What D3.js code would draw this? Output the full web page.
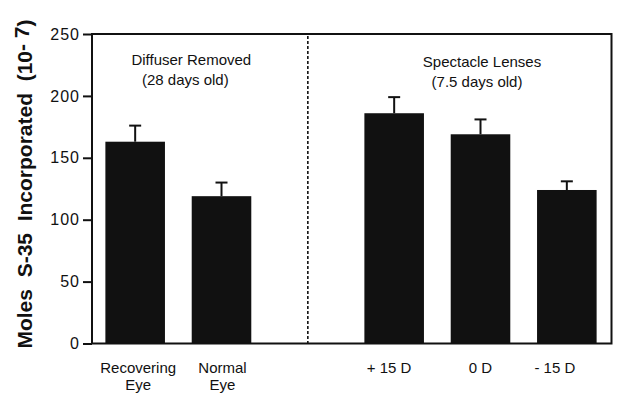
<!DOCTYPE html>
<html>
<head>
<meta charset="utf-8">
<script src="https://cdn.jsdelivr.net/npm/d3@7"></script>
<style>
  html, body { margin: 0; padding: 0; background: #fff; }
  svg { display: block; font-family: "Liberation Sans", Arial, Helvetica, sans-serif; }
</style>
</head>
<body>
<svg id="chart" width="629" height="408"></svg>
<script>
// ---- data ----
const slots = ["Recovering Eye", "Normal Eye", "divider", "+ 15 D", "0 D", "- 15 D"];
const categories = ["Recovering Eye", "Normal Eye", "+ 15 D", "0 D", "- 15 D"];
const labelLines = [["Recovering", "Eye"], ["Normal", "Eye"], ["+ 15 D"], ["0 D"], ["- 15 D"]];
const means = [163, 119, 186, 169, 124];
const errors = [13, 11, 13, 12, 7];
const yTicks = [0, 50, 100, 150, 200, 250];
const groupTitles = [["Diffuser Removed", "(28 days old)"], ["Spectacle Lenses", "(7.5 days old)"]];
const groupSlots = [["Recovering Eye", "Normal Eye"], ["+ 15 D", "0 D", "- 15 D"]];

// ---- layout (pixel nudges, not data) ----
const labelNudge = [3, 1, -5, 0, -12];
const titleNudge = [[13, 7], [1.5, -3.5]];

const svg = d3.select("#chart");
const mLeft = 92, mRight = 611.5, mTop = 34, mBottom = 343.5;

const x = d3.scaleBand().domain(slots).range([mLeft, 610]).paddingInner(0.31).paddingOuter(0.155);
const y = d3.scaleLinear().domain([0, 250]).range([mBottom, mTop]);

// bars
svg.append("g").selectAll("rect").data(categories).join("rect")
  .attr("x", d => x(d))
  .attr("width", x.bandwidth())
  .attr("y", (d, i) => y(means[i]))
  .attr("height", (d, i) => y(0) - y(means[i]))
  .attr("fill", "#111");

// error bars (upper only)
const eg = svg.append("g").attr("stroke", "#111").attr("stroke-width", 2);
categories.forEach((c, i) => {
  const cx = x(c) + x.bandwidth() / 2;
  eg.append("line").attr("x1", cx).attr("x2", cx)
    .attr("y1", y(means[i])).attr("y2", y(means[i] + errors[i]));
  eg.append("line").attr("x1", cx - 6).attr("x2", cx + 6)
    .attr("y1", y(means[i] + errors[i])).attr("y2", y(means[i] + errors[i]));
});

// frame
svg.append("path")
  .attr("d", `M${mLeft},${mTop}H${mRight}V${mBottom}H${mLeft}Z`)
  .attr("fill", "none").attr("stroke", "#111").attr("stroke-width", 2);

// dashed divider
const dx = x("divider") + x.bandwidth() / 2;
svg.append("line").attr("x1", dx).attr("x2", dx).attr("y1", mTop + 2).attr("y2", mBottom)
  .attr("stroke", "#111").attr("stroke-width", 1.6).attr("stroke-dasharray", "3,2");

// y axis
const yAxis = d3.axisLeft(y).tickValues(yTicks).tickSize(9).tickPadding(3);
const ya = svg.append("g").attr("transform", `translate(${mLeft},0)`).call(yAxis);
ya.select(".domain").remove();
ya.selectAll(".tick line").attr("stroke", "#111").attr("stroke-width", 2);
ya.selectAll(".tick text").attr("fill", "#111")
  .style("font-size", "16px").style("letter-spacing", "1px")
  .attr("font-family", "Liberation Sans, Arial, sans-serif");

// x labels
const xl = svg.append("g").attr("fill", "#111").style("font-size", "15px");
categories.forEach((c, i) => {
  const cx = x(c) + x.bandwidth() / 2 + labelNudge[i];
  const t = xl.append("text").attr("text-anchor", "middle");
  labelLines[i].forEach((ln, k) => {
    t.append("tspan").attr("x", cx).attr("y", 373 + k * 17).text(ln);
  });
});

// group titles
groupTitles.forEach((g, i) => {
  const s = groupSlots[i];
  const x0 = x(s[0]), x1 = x(s[s.length - 1]) + x.bandwidth();
  const cx = (x0 + x1) / 2;
  const t = svg.append("text").attr("text-anchor", "middle").attr("fill", "#111").style("font-size", "15px");
  t.append("tspan").attr("x", cx + titleNudge[i][0]).attr("y", 65 + i * 2).text(g[0]);
  t.append("tspan").attr("x", cx + titleNudge[i][1]).attr("y", 85 + i * 2).text(g[1]);
});

// y title
const yt = svg.append("text")
  .attr("transform", "translate(32,184) rotate(-90)")
  .attr("text-anchor", "middle")
  .attr("fill", "#111")
  .style("font-size", "21px").style("font-weight", "bold");
yt.append("tspan").text("Moles\u00a0\u00a0S-35\u00a0\u00a0Incorporated\u00a0\u00a0(10");
yt.append("tspan").attr("dy", -3).text("-\u00a07");
yt.append("tspan").attr("dy", 3).text(")");
</script>
</body>
</html>
